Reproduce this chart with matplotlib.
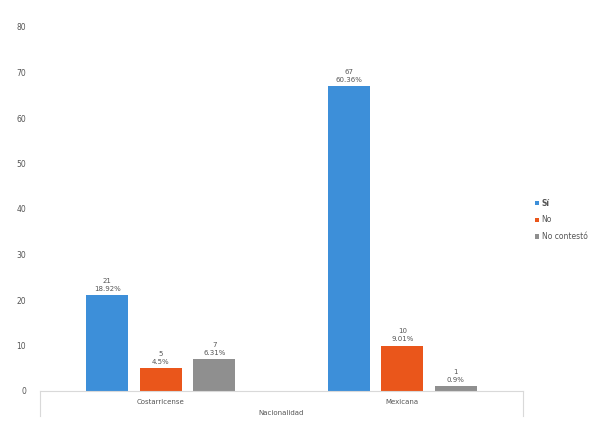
import matplotlib.pyplot as plt
import numpy as np

# data
categories = ['Costarricense', 'Mexicana']
series = ['Sí', 'No', 'No contestó']
counts = {
    'Sí': [21, 67],
    'No': [5, 10],
    'No contestó': [7, 1],
}
percents = {
    'Sí': ['18.92%', '60.36%'],
    'No': ['4.5%', '9.01%'],
    'No contestó': ['6.31%', '0.9%'],
}
colors = ['#3d8fd9', '#ea561b', '#8f8f8f']
txt = '#555555'

fig = plt.figure(figsize=(5.99, 4.24), dpi=100)
ax = fig.add_axes([40 / 599, 33 / 424, 483 / 599, 364 / 424])

x = np.arange(len(categories))
width = 0.175
step = 0.222
for i, (name, col) in enumerate(zip(series, colors)):
    pos = x + (i - 1) * step
    ax.bar(pos, counts[name], width, color=col, label=name)
    for p, v, pc in zip(pos, counts[name], percents[name]):
        ax.text(p, v + 0.8, '%d\n%s' % (v, pc), ha='center', va='bottom',
                fontsize=5, color=txt, linespacing=1.3)

ax.set_xlim(-0.5, 1.5)
ax.set_ylim(0, 80)
ax.set_yticks(range(0, 81, 10))
ax.tick_params(axis='y', length=0, labelsize=5.5, labelcolor=txt, pad=10)
ax.set_xticks([])
for s in ['top', 'right', 'left']:
    ax.spines[s].set_visible(False)
ax.spines['bottom'].set_color('#d9d9d9')
ax.spines['bottom'].set_linewidth(0.8)

# multi-level category axis
for xv in [-0.5, 1.5]:
    ax.plot([xv, xv], [0, -5.5], color='#d9d9d9', lw=0.8, clip_on=False)
for xi, c in zip(x, categories):
    ax.text(xi, -2.5, c, ha='center', va='center', fontsize=5, color=txt)
ax.text(0.5, -4.8, 'Nacionalidad', ha='center', va='center', fontsize=5, color=txt)

leg = ax.legend(loc='center left', bbox_to_anchor=(1.01, 0.47), frameon=False,
                fontsize=5.5, handlelength=0.5, handleheight=0.5,
                handletextpad=0.4, labelspacing=1.0, labelcolor=txt)
leg.get_texts()[0].set_fontweight('bold')

fig.savefig('out.png', dpi=100)
